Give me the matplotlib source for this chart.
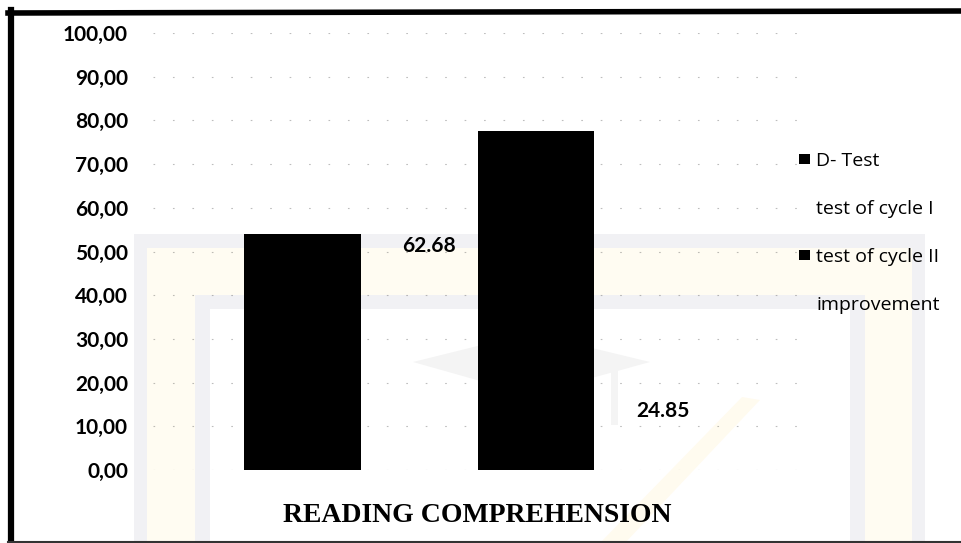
import numpy as np
import matplotlib.pyplot as plt
from matplotlib.patches import Rectangle, Polygon
from matplotlib.lines import Line2D

# scores per cycle (reading comprehension)
categories = ['READING COMPREHENSION']
series_names = ['D- Test', 'test of cycle I', 'test of cycle II', 'improvement']
series_values = [54.0, 62.68, 77.6, 24.85]
series_colors = ['black', 'none', 'black', 'none']
labelled = [False, True, False, True]
y_ticks = [0, 10, 20, 30, 40, 50, 60, 70, 80, 90, 100]

W, H = 961, 543
fig = plt.figure(figsize=(W / 100, H / 100), dpi=100)
fig.patch.set_facecolor('white')

def fx(px):
    return px / W

def fy(py):
    return 1 - py / H

# faint logo in the background
def frame(x0, y0, x1, color, z):
    fig.add_artist(Rectangle((fx(x0), 0), fx(x1) - fx(x0), fy(y0), transform=fig.transFigure,
                             facecolor=color, edgecolor='none', zorder=z))

frame(134, 234, 925, '#f1f1f4', -10)
frame(147, 248, 912, '#fffcf2', -9)
frame(195, 295, 865, '#f1f1f4', -8)
frame(210, 309, 850, 'white', -7)
cap = Polygon([(fx(413), fy(362)), (fx(530), fy(333)), (fx(650), fy(362)), (fx(530), fy(395))],
              closed=True, transform=fig.transFigure, facecolor='#f4f4f4', edgecolor='none', zorder=-6)
fig.add_artist(cap)
fig.add_artist(Rectangle((fx(611), fy(425)), fx(7), 60 / H, transform=fig.transFigure,
                         facecolor='#f4f4f4', edgecolor='none', zorder=-6))
swoosh = Polygon([(fx(600), fy(543)), (fx(625), fy(543)), (fx(760), fy(400)), (fx(742), fy(397))],
                 closed=True, transform=fig.transFigure, facecolor='#fffbef', edgecolor='none', zorder=-6)
fig.add_artist(swoosh)

ax = fig.add_axes([fx(153), fy(470), fx(802) - fx(153), fy(33) - fy(470)])
ax.patch.set_alpha(0)

w = 0.18
x = np.arange(len(categories))
offsets = (np.arange(len(series_names)) - (len(series_names) - 1) / 2) * w
bars = []
for i, (name, val, col) in enumerate(zip(series_names, series_values, series_colors)):
    b = ax.bar(x + offsets[i], [val], width=w, color=col, edgecolor='none', label=name, zorder=3)
    bars.append(b)
    if labelled[i]:
        ax.annotate(f'{val:.2f}', (x[0] + offsets[i] + 0.015, val), xytext=(0, -36), textcoords='offset points',
                    ha='center', va='center', fontsize=15, fontweight='bold', family='Lato', zorder=4)

ax.set_xlim(-0.5, 0.5)
ax.set_ylim(0, 100)
ax.set_yticks(y_ticks)
ax.set_yticklabels([f'{v:.2f}'.replace('.', ',') for v in y_ticks], family='Lato',
                   fontsize=15, fontweight='bold')
ax.set_xticks(x)
ax.set_xticklabels(categories, family='Liberation Serif', fontsize=20, fontweight='bold')
ax.tick_params(axis='y', length=0, pad=18)
ax.tick_params(axis='x', length=0, pad=24)
ax.grid(axis='y', color='#444444', lw=0.8, linestyle=(0, (1.5, 16)), alpha=0.35, zorder=1)
ax.set_axisbelow(True)
for s in ax.spines.values():
    s.set_visible(False)

fig.legend(handles=[b[0] for b in bars], labels=series_names, loc='upper left',
           bbox_to_anchor=(fx(789), fy(142)), frameon=False, borderpad=0,
           prop={'family': 'Open Sans', 'size': 14}, handlelength=0.6, handleheight=0.45,
           handletextpad=0.3, labelspacing=1.55)

# scanned border around the chart
fig.add_artist(Line2D([fx(11), fx(11)], [fy(10), fy(542)], transform=fig.transFigure,
                      color='black', lw=4.5, zorder=20))
fig.add_artist(Line2D([fx(8), 1], [fy(13), fy(11)], transform=fig.transFigure,
                      color='black', lw=4, zorder=20))
fig.add_artist(Line2D([fx(8), 1], [fy(541.5), fy(541.5)], transform=fig.transFigure,
                      color='#333333', lw=1.5, zorder=20))

fig.savefig('out.png', dpi=100)
